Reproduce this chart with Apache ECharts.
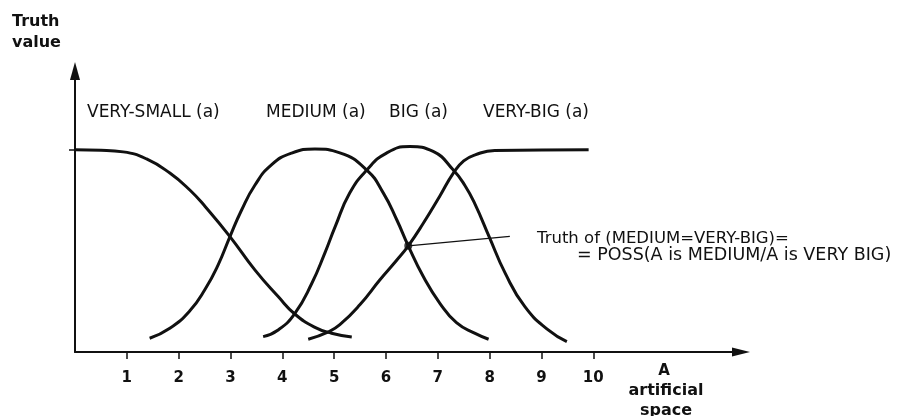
<!DOCTYPE html>
<html>
<head>
<meta charset="utf-8">
<script src="https://cdn.jsdelivr.net/npm/echarts@6/dist/echarts.min.js"></script>
<style>html,body{margin:0;padding:0;background:#fff;}#c{width:898px;height:416px;}</style>
</head>
<body>
<div id="c"></div>
<script>
// x tick labels (artificial space A)
var xTicks = [1, 2, 3, 4, 5, 6, 7, 8, 9, 10];
var yTicks = [1];
// membership curves [A, truth value]
var verySmall = [[0,1.0],[0.5,0.998],[0.93,0.99],[1.38,0.955],[1.83,0.885],[2.22,0.80],[2.51,0.72],[2.99,0.571],[3.47,0.406],[3.92,0.274],[4.24,0.188],[4.63,0.122],[4.95,0.093],[5.34,0.074]];
var medium = [[1.44,0.068],[1.83,0.117],[2.22,0.205],[2.51,0.31],[2.76,0.43],[2.99,0.571],[3.21,0.70],[3.47,0.825],[3.79,0.926],[4.18,0.984],[4.63,1.004],[5.11,0.985],[5.63,0.90],[5.95,0.786],[6.21,0.653],[6.43,0.525],[6.72,0.373],[7.04,0.241],[7.36,0.145],[7.72,0.092],[7.98,0.063]];
var big = [[3.63,0.076],[3.92,0.109],[4.24,0.19],[4.57,0.34],[4.82,0.489],[5.02,0.62],[5.30,0.786],[5.63,0.90],[6.01,0.984],[6.46,1.016],[6.91,0.992],[7.30,0.90],[7.52,0.825],[7.72,0.73],[7.99,0.571],[8.30,0.39],[8.68,0.224],[9.13,0.109],[9.49,0.051]];
var veryBig = [[4.50,0.063],[4.89,0.1],[5.11,0.135],[5.50,0.235],[5.88,0.356],[6.21,0.455],[6.43,0.525],[6.72,0.637],[7.04,0.772],[7.30,0.885],[7.50,0.945],[7.72,0.975],[8.10,0.997],[9.91,1.0]];
var crossPoint = [[6.43, 0.525]];
var pointer = [[6.43, 0.525], [8.39, 0.572]];

var chart = echarts.init(document.getElementById('c'), null, {renderer: 'canvas'});
var INK = '#111';
var FONT = '"DejaVu Sans", sans-serif';
function curve(name, data) {
  return {name: name, type: 'line', data: data, smooth: 0.5, symbol: 'none',
    lineStyle: {color: INK, width: 3}, silent: true, z: 3};
}
var option = {
  animation: false,
  backgroundColor: '#fff',
  grid: {left: 75, right: 157, top: 71, bottom: 64, containLabel: false},
  xAxis: {
    type: 'value', min: 0, max: 12.85,
    axisLine: {show: true, lineStyle: {color: INK, width: 2}, symbol: ['none', 'triangle'], symbolSize: [9, 18]},
    axisTick: {show: true, customValues: xTicks, length: 7, lineStyle: {color: INK, width: 1.5}},
    axisLabel: {show: true, customValues: xTicks, margin: 19, color: INK, fontSize: 15, fontWeight: 'bold', fontFamily: FONT},
    splitLine: {show: false}
  },
  yAxis: {
    type: 'value', min: 0, max: 1.39,
    axisLine: {show: true, lineStyle: {color: INK, width: 2}, symbol: ['none', 'triangle'], symbolSize: [10, 18]},
    axisTick: {show: true, customValues: yTicks, length: 6, lineStyle: {color: INK, width: 1.5}},
    axisLabel: {show: false},
    splitLine: {show: false}
  },
  series: [
    curve('VERY-SMALL', verySmall),
    curve('MEDIUM', medium),
    curve('BIG', big),
    curve('VERY-BIG', veryBig),
    {type: 'line', data: pointer, symbol: 'none', lineStyle: {color: INK, width: 1.2}, silent: true, z: 2},
    {type: 'scatter', data: crossPoint, symbol: 'circle', symbolSize: 8, itemStyle: {color: INK}, silent: true, z: 4}
  ],
  graphic: [
    {type: 'text', left: 12, top: 11, style: {text: 'Truth\nvalue', font: 'bold 16px ' + FONT, fill: INK, lineHeight: 21}},
    {type: 'text', x: 87, y: 113, style: {text: 'VERY-SMALL (a)', font: '17px ' + FONT, fill: INK, textVerticalAlign: 'middle'}},
    {type: 'text', x: 266, y: 113, style: {text: 'MEDIUM (a)', font: '17px ' + FONT, fill: INK, textVerticalAlign: 'middle'}},
    {type: 'text', x: 389, y: 113, style: {text: 'BIG (a)', font: '17px ' + FONT, fill: INK, textVerticalAlign: 'middle'}},
    {type: 'text', x: 483, y: 113, style: {text: 'VERY-BIG (a)', font: '17px ' + FONT, fill: INK, textVerticalAlign: 'middle'}},
    {type: 'text', x: 537, y: 239, style: {text: 'Truth of (MEDIUM=VERY-BIG)=', font: '16.5px ' + FONT, fill: INK, textVerticalAlign: 'middle'}},
    {type: 'text', x: 577, y: 255, style: {text: '= POSS(A is MEDIUM/A is VERY BIG)', font: '17.5px ' + FONT, fill: INK, textVerticalAlign: 'middle'}},
    {type: 'text', x: 664, y: 371, style: {text: 'A', font: 'bold 15px ' + FONT, fill: INK, textAlign: 'center', textVerticalAlign: 'middle'}},
    {type: 'text', x: 666, y: 391, style: {text: 'artificial', font: 'bold 16px ' + FONT, fill: INK, textAlign: 'center', textVerticalAlign: 'middle'}},
    {type: 'text', x: 666, y: 411, style: {text: 'space', font: 'bold 16px ' + FONT, fill: INK, textAlign: 'center', textVerticalAlign: 'middle'}}
  ]
};
chart.setOption(option);
</script>
</body>
</html>
